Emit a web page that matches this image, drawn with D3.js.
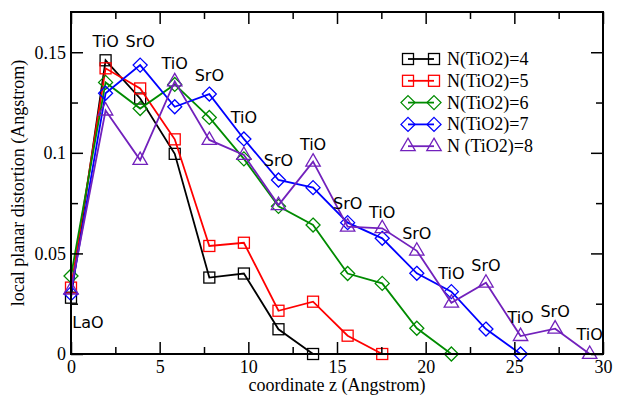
<!DOCTYPE html>
<html><head><meta charset="utf-8">
<script src="https://cdn.jsdelivr.net/npm/d3@7"></script>
<style>body{margin:0;background:#fff}svg{display:block}</style>
</head><body>
<svg id="c" width="620" height="395"></svg>
<script>
const step = 1.95;
const n4 = [0.028,0.146,0.127,0.0995,0.038,0.040,0.0123,0];
const n5 = [0.033,0.142,0.132,0.1067,0.0537,0.0553,0.0215,0.026,0.0091,0];
const n6 = [0.0388,0.135,0.122,0.134,0.1176,0.097,0.0734,0.0641,0.040,0.0351,0.0128,0];
const n7 = [0.030,0.1296,0.1436,0.1229,0.1292,0.1069,0.0865,0.0827,0.0653,0.0575,0.0401,0.031,0.0124,0];
const n8 = [0.032,0.121,0.0964,0.1355,0.1064,0.0989,0.074,0.0956,0.0633,0.0625,0.0513,0.0255,0.0354,0.0089,0.0126,0];
const seriesNames = ["N(TiO2)=4","N(TiO2)=5","N(TiO2)=6","N(TiO2)=7","N (TiO2)=8"];
const seriesColors = ["#000000","#ff0000","#008b00","#0000ff","#7221bc"];
const seriesMarkers = ["square","square","diamond","diamond","triangle"];
const xTicks = [0,5,10,15,20,25,30];
const yTicks = [0,0.05,0.1,0.15];
const yTickLabels = ["0","0.05","0.1","0.15"];
const layerLabels = [
  ["LaO",0,0.015],["TiO",1,0.155],["SrO",2,0.155],["TiO",3,0.144],["SrO",4,0.138],
  ["TiO",5,0.117],["SrO",6,0.0955],["TiO",7,0.1035],["SrO",8,0.0745],["TiO",9,0.070],
  ["SrO",10,0.0595],["TiO",11,0.0395],["SrO",12,0.0435],["TiO",13,0.0175],["SrO",14,0.0205],["TiO",15,0.009]
];

const svg = d3.select("#c");
const L=71,R=603,T=12,B=354;
const x = d3.scaleLinear().domain([0,30]).range([L,R]);
const y = d3.scaleLinear().domain([0,0.17]).range([B,T]);
const allSeries=[n4,n5,n6,n7,n8];

function marker(g, type, cx, cy, color){
  if(type==="square"){
    g.append("rect").attr("x",cx-5.5).attr("y",cy-5.5).attr("width",11).attr("height",11)
     .attr("fill","none").attr("stroke",color).attr("stroke-width",1.3);
  } else if(type==="diamond"){
    const r=7;
    g.append("path").attr("d",`M${cx},${cy-r}L${cx+r},${cy}L${cx},${cy+r}L${cx-r},${cy}Z`)
     .attr("fill","none").attr("stroke",color).attr("stroke-width",1.3);
  } else {
    const r=8;
    g.append("path").attr("d",`M${cx},${cy-r}L${cx+r*0.9},${cy+r*0.55}L${cx-r*0.9},${cy+r*0.55}Z`)
     .attr("fill","none").attr("stroke",color).attr("stroke-width",1.3);
  }
}

allSeries.forEach((s,i)=>{
  const g=svg.append("g");
  const line=d3.line().x((d,j)=>x(j*step)).y(d=>y(d));
  g.append("path").attr("d",line(s)).attr("fill","none").attr("stroke",seriesColors[i]).attr("stroke-width",1.8);
  s.forEach((d,j)=>marker(g,seriesMarkers[i],x(j*step),y(d),seriesColors[i]));
});

svg.append("rect").attr("x",L).attr("y",T).attr("width",R-L).attr("height",B-T)
  .attr("fill","none").attr("stroke","#000").attr("stroke-width",2);

const serif="'Liberation Serif','Times New Roman',serif";
const xAxisB=d3.axisBottom(x).tickValues(xTicks).tickSize(-12).tickPadding(6).tickFormat(d3.format("d"));
const xMinor=d3.range(2.5,30,5);
const yMinor=[0.025,0.075,0.125];
function styleAxis(g){g.select(".domain").remove();g.selectAll("line").attr("stroke","#000").attr("stroke-width",1.5);g.selectAll("text").attr("font-family",serif).attr("font-size",18).attr("fill","#000");}
svg.append("g").attr("transform",`translate(0,${B})`).call(xAxisB).call(styleAxis);
svg.append("g").attr("transform",`translate(0,${B})`).call(d3.axisBottom(x).tickValues(xMinor).tickSize(-7).tickFormat("")).call(styleAxis);
svg.append("g").attr("transform",`translate(0,${T})`).call(d3.axisTop(x).tickValues(xTicks).tickSize(-12).tickFormat("")).call(styleAxis);
svg.append("g").attr("transform",`translate(0,${T})`).call(d3.axisTop(x).tickValues(xMinor).tickSize(-7).tickFormat("")).call(styleAxis);
svg.append("g").attr("transform",`translate(${L},0)`).call(d3.axisLeft(y).tickValues(yTicks).tickSize(-12).tickPadding(5).tickFormat((d,i)=>yTickLabels[i])).call(styleAxis);
svg.append("g").attr("transform",`translate(${L},0)`).call(d3.axisLeft(y).tickValues(yMinor).tickSize(-7).tickFormat("")).call(styleAxis);
svg.append("g").attr("transform",`translate(${R},0)`).call(d3.axisRight(y).tickValues(yTicks).tickSize(-12).tickFormat("")).call(styleAxis);
svg.append("g").attr("transform",`translate(${R},0)`).call(d3.axisRight(y).tickValues(yMinor).tickSize(-7).tickFormat("")).call(styleAxis);

svg.append("text").attr("x",(L+R)/2).attr("y",391).attr("text-anchor","middle")
  .attr("font-family",serif).attr("font-size",18).text("coordinate z (Angstrom)");
svg.append("text").attr("transform",`translate(24,${(T+B)/2}) rotate(-90)`).attr("text-anchor","middle")
  .attr("font-family",serif).attr("font-size",18).text("local planar distortion (Angstrom)");

layerLabels.forEach(([t,i,v])=>{
  const cx = i===0 ? x(0)+17 : x(i*step);
  svg.append("text").attr("x",cx).attr("y",y(v)).attr("text-anchor","middle").attr("dominant-baseline","middle")
    .attr("font-family","'DejaVu Sans',sans-serif").attr("font-size",16).text(t);
});

seriesNames.forEach((nm,i)=>{
  const yy=59+i*21.8;
  const g=svg.append("g");
  g.append("line").attr("x1",408).attr("x2",434).attr("y1",yy).attr("y2",yy).attr("stroke",seriesColors[i]).attr("stroke-width",1.8);
  marker(g,seriesMarkers[i],408,yy,seriesColors[i]);
  marker(g,seriesMarkers[i],434,yy,seriesColors[i]);
  g.append("text").attr("x",447).attr("y",yy).attr("dominant-baseline","central")
   .attr("font-family",serif).attr("font-size",18).text(nm);
});
</script>
</body></html>
